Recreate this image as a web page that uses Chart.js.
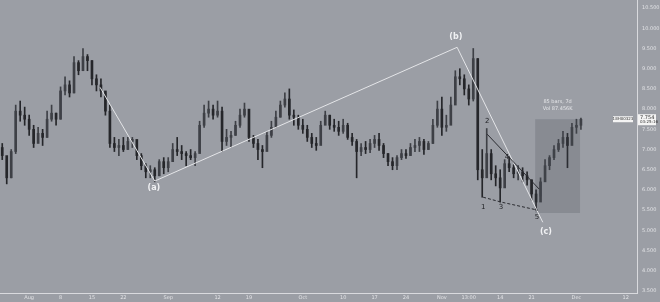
<!DOCTYPE html>
<html>
<head>
<meta charset="utf-8">
<script src="https://cdn.jsdelivr.net/npm/chart.js@4"></script>
<style>
  html, body { margin: 0; padding: 0; background: #9b9ea5; }
  #wrap { width: 660px; height: 302px; }
</style>
</head>
<body>
<div id="wrap"><canvas id="chart" width="660" height="302"></canvas></div>
<script>
// daily candles, Jul 26 -> Dec 2 (first open, then close/high/low per day)
const firstOpen = 7.05;
const closes = [
  6.85, 6.3, 6.95, 7.95, 7.85, 7.75, 7.5, 7.15, 7.4, 7.3,
  7.75, 7.9, 7.75, 8.45, 8.6, 8.4, 9.15, 8.95, 9.3, 9.2,
  8.75, 8.6, 8.45, 7.95, 7.15, 7.05, 7.1, 7.0, 7.2, 7.25,
  6.85, 6.6, 6.45, 6.5, 6.35, 6.7, 6.55, 6.7, 7.0, 6.95,
  6.9, 6.85, 6.8, 6.9, 7.6, 7.9, 8.0, 7.85, 7.95, 7.2,
  7.3, 7.35, 7.6, 7.85, 8.0, 7.3, 7.15, 7.0, 6.95, 7.35,
  7.55, 7.8, 8.1, 8.25, 7.85, 7.8, 7.6, 7.5, 7.3, 7.15,
  7.1, 7.6, 7.85, 7.6, 7.55, 7.45, 7.6, 7.3, 7.2, 6.95,
  7.05, 7.0, 7.15, 7.25, 7.1, 6.9, 6.7, 6.6, 6.8, 6.9,
  6.85, 7.05, 7.1, 7.2, 7.0, 7.15, 7.6, 8.0, 7.55, 7.6,
  8.1, 8.8, 8.75, 8.5, 8.25, 9.25, 6.5, 6.3, 6.9, 6.4,
  6.3, 6.05, 6.65, 6.55, 6.4, 6.45, 6.35, 6.25, 5.9, 5.7,
  6.2, 6.6, 6.8, 7.0, 7.15, 7.3, 7.1, 7.55, 7.6, 7.75
];
const highs = [
  7.15, 6.75, 7.0, 8.1, 8.2, 8.05, 7.85, 7.6, 7.55, 7.5,
  7.95, 8.1, 7.9, 8.55, 8.8, 8.7, 9.3, 9.2, 9.5, 9.35,
  9.2, 8.85, 8.75, 8.4, 8.1, 7.3, 7.25, 7.3, 7.3, 7.3,
  7.2, 6.9, 6.65, 6.6, 6.55, 6.75, 6.8, 6.8, 7.15, 7.3,
  7.1, 6.95, 7.0, 6.95, 7.7, 8.1, 8.2, 8.1, 8.2, 8.05,
  7.5, 7.45, 7.7, 8.0, 8.15, 7.9, 7.35, 7.25, 7.1, 7.45,
  7.7, 7.95, 8.2, 8.4, 8.5, 7.98, 7.85, 7.75, 7.6, 7.4,
  7.3, 7.7, 7.95, 7.85, 7.75, 7.7, 7.75, 7.65, 7.4, 7.25,
  7.15, 7.2, 7.25, 7.35, 7.4, 7.15, 6.9, 6.8, 6.85, 7.0,
  7.0, 7.15, 7.25, 7.3, 7.25, 7.2, 7.75, 8.2, 8.3, 7.85,
  8.3, 8.95, 9.0, 8.85, 8.6, 9.5, 9.25, 7.0, 7.52, 7.0,
  6.6, 6.5, 6.75, 6.82, 6.62, 6.6, 6.55, 6.45, 6.25, 6.0,
  6.3, 6.75, 6.85, 7.1, 7.25, 7.45, 7.4, 7.65, 7.75, 7.78
];
const lows = [
  6.75, 6.15, 6.3, 6.9, 7.7, 7.6, 7.35, 7.05, 7.2, 7.1,
  7.3, 7.7, 7.6, 7.75, 8.35, 8.3, 8.4, 8.85, 9.0, 8.95,
  8.6, 8.45, 8.3, 7.85, 7.05, 6.95, 6.85, 6.95, 7.0, 7.05,
  6.75, 6.5, 6.3, 6.3, 6.2, 6.35, 6.4, 6.45, 6.7, 6.85,
  6.75, 6.6, 6.75, 6.6, 6.95, 7.55, 7.8, 7.75, 7.8, 6.95,
  7.1, 7.05, 7.35, 7.55, 7.8, 7.2, 7.05, 6.75, 6.55, 7.05,
  7.3, 7.55, 7.8, 8.05, 7.75, 7.6, 7.5, 7.4, 7.2, 7.05,
  6.98, 7.3, 7.65, 7.5, 7.45, 7.35, 7.4, 7.25, 7.1, 6.3,
  6.85, 6.9, 6.92, 7.05, 6.98, 6.8, 6.6, 6.5, 6.5, 6.75,
  6.78, 6.85, 6.95, 6.95, 6.88, 7.0, 7.15, 7.55, 7.35, 7.45,
  7.75, 8.2, 8.6, 8.35, 8.1, 8.2, 6.25, 5.82, 6.35, 6.25,
  6.1, 5.7, 6.35, 6.45, 6.3, 6.25, 6.2, 6.12, 5.75, 5.5,
  5.85, 6.28, 6.5, 6.75, 6.95, 7.05, 6.55, 7.2, 7.4, 7.5
];
const dayCount = 142; // axis runs on to Dec 14

// x tick labels (day index -> text)
const tickIdx = [6, 13, 20, 27, 37, 48, 55, 67, 76, 83, 90, 98, 104, 111, 118, 128, 139];
const tickText = ["Aug", "8", "15", "22", "Sep", "12", "19", "Oct", "10", "17", "24", "Nov", "13:00", "14", "21", "Dec", "12"];

// y tick values
const yTicks = [3.5, 4, 4.5, 5, 5.5, 6, 6.5, 7, 7.5, 8, 8.5, 9, 9.5, 10, 10.5];

// wave annotations (day index, price)
const abcLine = [[21.8, 8.54], [34.0, 6.22], [101.4, 9.53], [120.5, 5.2]];
const abcLabels = [["(a)", 33.8, 6.04], ["(b)", 101.1, 9.78], ["(c)", 121.2, 4.96]];
const line24 = [[108.1, 7.38], [119.7, 6.02]];
const line135 = [[107.2, 5.82], [111.2, 5.7], [119.4, 5.5]];
const waveLabels = [["1", 107.2, 5.57], ["2", 108.1, 7.7], ["3", 111.2, 5.57], ["4", 112.5, 6.81], ["5", 119.2, 5.33]];
const rangeBox = { from: 118.8, to: 128.8, top: 7.75, bottom: 5.43 };
const rangeText = ["85 bars, 7d", "Vol 87.456K"];
const lastPrice = "7.754";
const countdown = "03:25:16";

// build candle table
const labels = [];
for (let i = 0; i < dayCount; i++) labels.push(i);
const opens = [firstOpen].concat(closes.slice(0, -1));
const wicks = closes.map((c, i) => [lows[i], highs[i]]);
const bodies = closes.map((c, i) => [opens[i], c]);
const colors = closes.map((c, i) => (c >= opens[i] ? "#3e4046" : "#25262a"));

const annotations = {
  id: "annotations",
  afterDatasetsDraw(chart) {
    const ctx = chart.ctx;
    const xs = chart.scales.x;
    const ys = chart.scales.y;
    const px = (i) => xs.getPixelForValue(0) + i * (xs.getPixelForValue(1) - xs.getPixelForValue(0));
    const py = (v) => ys.getPixelForValue(v);
    ctx.save();

    // shaded date range box
    ctx.fillStyle = "rgba(70, 72, 80, 0.22)";
    const bx = px(rangeBox.from), bx2 = px(rangeBox.to);
    const by = py(rangeBox.top), by2 = py(rangeBox.bottom);
    ctx.fillRect(bx, by, bx2 - bx, by2 - by);
    ctx.fillStyle = "#e6e7ea";
    ctx.font = "5px 'DejaVu Sans'";
    ctx.textAlign = "center";
    ctx.fillText(rangeText[0], (bx + bx2) / 2, by - 16);
    ctx.fillText(rangeText[1], (bx + bx2) / 2, by - 9);

    // (a)-(b)-(c) line
    ctx.strokeStyle = "#e4e5e8";
    ctx.lineWidth = 1;
    ctx.beginPath();
    abcLine.forEach((p, k) => (k ? ctx.lineTo(px(p[0]), py(p[1])) : ctx.moveTo(px(p[0]), py(p[1]))));
    ctx.stroke();

    // wedge lines
    ctx.strokeStyle = "#2a2b30";
    ctx.beginPath();
    ctx.moveTo(px(line24[0][0]), py(line24[0][1]));
    ctx.lineTo(px(line24[1][0]), py(line24[1][1]));
    ctx.stroke();
    ctx.setLineDash([3, 2]);
    ctx.beginPath();
    line135.forEach((p, k) => (k ? ctx.lineTo(px(p[0]), py(p[1])) : ctx.moveTo(px(p[0]), py(p[1]))));
    ctx.stroke();
    ctx.setLineDash([]);

    ctx.textBaseline = "middle";
    ctx.fillStyle = "#f0f1f3";
    ctx.font = "bold 8px 'DejaVu Sans'";
    abcLabels.forEach((l) => ctx.fillText(l[0], px(l[1]), py(l[2])));
    ctx.fillStyle = "#222327";
    ctx.font = "7px 'DejaVu Sans'";
    waveLabels.forEach((l) => ctx.fillText(l[0], px(l[1]), py(l[2])));

    // last price tag
    const ly = py(closes[closes.length - 1]);
    ctx.fillStyle = "#f4f4f4";
    ctx.fillRect(613, ly - 3, 20, 6);
    ctx.fillRect(638, ly - 5, 18, 11);
    ctx.fillStyle = "#333";
    ctx.font = "4px 'DejaVu Sans'";
    ctx.fillText("18H00323", 623, ly);
    ctx.font = "5px 'DejaVu Sans'";
    ctx.textAlign = "left";
    ctx.fillText(lastPrice, 640, ly - 2);
    ctx.font = "4px 'DejaVu Sans'";
    ctx.fillText(countdown, 640, ly + 3);
    ctx.restore();
  },
};

new Chart(document.getElementById("chart").getContext("2d"), {
  type: "bar",
  data: {
    labels: labels,
    datasets: [
      { data: wicks, backgroundColor: colors, barThickness: 1, grouped: false, order: 2 },
      { data: bodies, backgroundColor: colors, barThickness: 2, grouped: false, order: 1, minBarLength: 1 },
    ],
  },
  options: {
    responsive: false,
    animation: false,
    layout: { padding: 0 },
    plugins: { legend: { display: false }, tooltip: { enabled: false } },
    scales: {
      x: {
        grid: { display: false, drawTicks: false },
        border: { display: true, color: "#d9dade", width: 1 },
        afterFit: (s) => {
          s.height = 9;
          s.paddingLeft = 0;
          s.paddingRight = 0;
        },
        ticks: {
          autoSkip: false,
          maxRotation: 0,
          padding: 2,
          color: "#e2e3e6",
          font: { size: 5, family: "DejaVu Sans" },
          callback: function (value, index) {
            const k = tickIdx.indexOf(index);
            return k >= 0 ? tickText[k] : "";
          },
        },
      },
      y: {
        position: "right",
        min: 3.45,
        max: 10.7,
        grid: { display: false, drawTicks: false },
        border: { display: true, color: "#d9dade", width: 1 },
        afterFit: (s) => {
          s.width = 23;
          s.paddingTop = 0;
          s.paddingBottom = 0;
        },
        afterBuildTicks: (s) => { s.ticks = yTicks.map((v) => ({ value: v })); },
        ticks: {
          padding: 5,
          color: "#e2e3e6",
          font: { size: 5, family: "DejaVu Sans" },
          callback: (v) => Number(v).toFixed(3),
        },
      },
    },
  },
  plugins: [annotations],
});
</script>
</body>
</html>
